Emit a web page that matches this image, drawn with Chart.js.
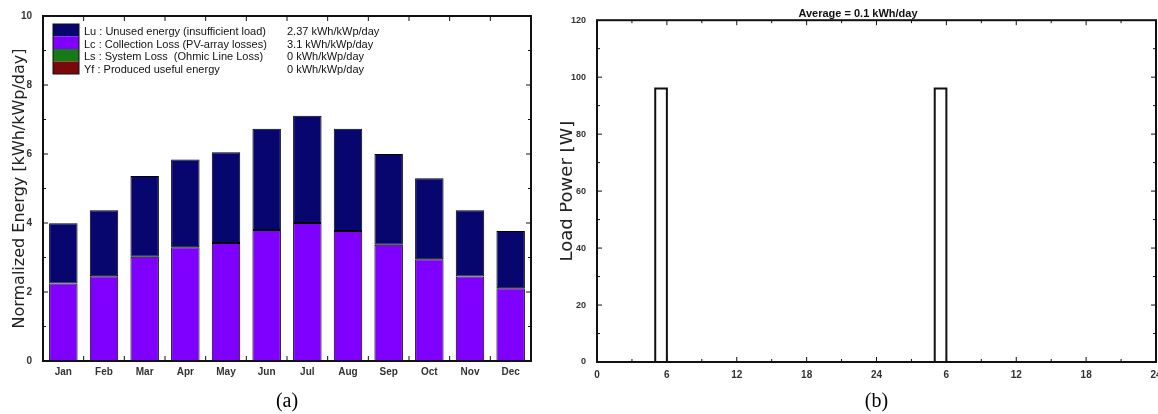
<!DOCTYPE html>
<html>
<head>
    <title>Normalized energy and load power</title>
    <script src="https://cdn.jsdelivr.net/npm/chart.js"></script>
    <style>
        body { margin: 0; background: #fff; overflow: hidden; width: 1158px; height: 414px; position: relative; }
        .box { position: absolute; top: 0; height: 414px; }
    </style>
</head>
<body>
    <div class="box" style="left:0;width:560px"><canvas id="energyChart"></canvas></div>
    <div class="box" style="left:560px;width:610px"><canvas id="loadChart"></canvas></div>
    <script>
        // (a) monthly normalized energy, kWh/kWp/day
        const months = ['Jan', 'Feb', 'Mar', 'Apr', 'May', 'Jun', 'Jul', 'Aug', 'Sep', 'Oct', 'Nov', 'Dec'];
        const yfValues = [0, 0, 0, 0, 0, 0, 0, 0, 0, 0, 0, 0];
        const lsValues = [0, 0, 0, 0, 0, 0, 0, 0, 0, 0, 0, 0];
        const lcValues = [2.25, 2.46, 3.02, 3.30, 3.42, 3.80, 4.00, 3.77, 3.37, 2.95, 2.45, 2.11];
        const luValues = [1.74, 1.91, 2.34, 2.54, 2.63, 2.93, 3.11, 2.96, 2.63, 2.35, 1.92, 1.66];
        const legendLabels = [
            'Lu : Unused energy (insufficient load)',
            'Lc : Collection Loss (PV-array losses)',
            'Ls : System Loss  (Ohmic Line Loss)',
            'Yf : Produced useful energy'
        ];
        const legendValues = ['2.37 kWh/kWp/day', '3.1 kWh/kWp/day', '0 kWh/kWp/day', '0 kWh/kWp/day'];

        // (b) load power over two days, W (value holds for the hour that starts there)
        const hours = [0, 1, 2, 3, 4, 5, 6, 7, 8, 9, 10, 11, 12, 13, 14, 15, 16, 17, 18, 19, 20, 21, 22, 23,
                       24, 25, 26, 27, 28, 29, 30, 31, 32, 33, 34, 35, 36, 37, 38, 39, 40, 41, 42, 43, 44, 45, 46, 47, 48];
        const loadW = [0, 0, 0, 0, 0, 96, 0, 0, 0, 0, 0, 0, 0, 0, 0, 0, 0, 0, 0, 0, 0, 0, 0, 0,
                       0, 0, 0, 0, 0, 96, 0, 0, 0, 0, 0, 0, 0, 0, 0, 0, 0, 0, 0, 0, 0, 0, 0, 0, 0];
        const loadTitle = 'Average = 0.1 kWh/day';

        const tickFont = { family: 'Liberation Sans', size: 10, weight: 'bold' };
        const ink = '#111';

        // frame around the plot with small inward ticks
        function framePlugin(xMarks, yMarks) {
            return {
                id: 'frame',
                afterDraw(chart) {
                    const { ctx, chartArea: a } = chart;
                    const xs = xMarks(chart), ys = yMarks(chart);
                    ctx.save();
                    ctx.strokeStyle = ink;
                    ctx.lineWidth = 1;
                    ctx.beginPath();
                    xs.forEach(m => {
                        ctx.moveTo(m.px, a.bottom); ctx.lineTo(m.px, a.bottom - m.len);
                        ctx.moveTo(m.px, a.top); ctx.lineTo(m.px, a.top + m.len);
                    });
                    ys.forEach(m => {
                        ctx.moveTo(a.left, m.px); ctx.lineTo(a.left + m.len, m.px);
                        ctx.moveTo(a.right, m.px); ctx.lineTo(a.right - m.len, m.px);
                    });
                    ctx.stroke();
                    ctx.lineWidth = 2;
                    ctx.strokeRect(a.left, a.top, a.right - a.left, a.bottom - a.top);
                    ctx.restore();
                }
            };
        }

        const energyLegend = {
            id: 'energyLegend',
            afterDraw(chart) {
                const ctx = chart.ctx;
                const sets = chart.data.datasets.slice().reverse();
                ctx.save();
                ctx.font = '11px "Liberation Sans", Arial, sans-serif';
                ctx.fillStyle = ink;
                ctx.textBaseline = 'middle';
                sets.forEach((ds, i) => {
                    const y = 24 + i * 12.5;
                    ctx.fillStyle = ds.backgroundColor;
                    ctx.fillRect(53, y, 26, 12.5);
                    ctx.fillStyle = ink;
                    ctx.fillText(legendLabels[i], 84, y + 8);
                    ctx.fillText(legendValues[i], 287, y + 8);
                });
                ctx.strokeStyle = ink;
                ctx.lineWidth = 1;
                ctx.strokeRect(53, 24, 26, 50);
                ctx.restore();
            }
        };

        const barSet = (label, data, color, border) => ({
            label: label,
            data: data,
            backgroundColor: color,
            borderColor: '#000',
            borderWidth: border,
            borderSkipped: false,
            barPercentage: 0.7,
            categoryPercentage: 1.0
        });

        new Chart(document.getElementById('energyChart'), {
            type: 'bar',
            data: {
                labels: months,
                datasets: [
                    barSet('Yf', yfValues, '#7a0a0a', 0),
                    barSet('Ls', lsValues, '#167a16', 0),
                    barSet('Lc', lcValues, '#7f00ff', 1),
                    barSet('Lu', luValues, '#06066e', 1)
                ]
            },
            options: {
                responsive: true,
                maintainAspectRatio: false,
                animation: false,
                layout: { padding: { top: 16, right: 29, left: 0, bottom: 0 } },
                plugins: { legend: { display: false }, tooltip: { enabled: false } },
                scales: {
                    x: {
                        stacked: true,
                        grid: { display: false },
                        border: { display: false },
                        ticks: { font: tickFont, color: '#333', padding: -3, maxRotation: 0, autoSkip: false },
                        title: { display: true, text: '(a)', font: { family: 'Liberation Serif', size: 20 }, color: '#000', padding: { top: 0, bottom: 0 } },
                        afterFit(scale) { scale.height = 53; }
                    },
                    y: {
                        stacked: true,
                        min: 0,
                        max: 10,
                        grid: { display: false },
                        border: { display: false },
                        ticks: { stepSize: 2, font: tickFont, color: '#333', padding: 3 },
                        title: { display: true, text: 'Normalized Energy [kWh/kWp/day]', font: { family: 'DejaVu Sans', size: 16 }, color: '#222', padding: { top: 10, bottom: 0 } },
                        afterFit(scale) { scale.width = 43; }
                    }
                }
            },
            plugins: [
                framePlugin(
                    chart => {
                        const x = chart.scales.x, out = [];
                        for (let i = 0; i < months.length - 1; i++) {
                            out.push({ px: (x.getPixelForValue(i) + x.getPixelForValue(i + 1)) / 2, len: 5 });
                        }
                        return out;
                    },
                    chart => {
                        const y = chart.scales.y, out = [];
                        for (let v = 1; v < 10; v++) out.push({ px: y.getPixelForValue(v), len: v % 2 ? 3 : 5 });
                        return out;
                    }
                ),
                energyLegend
            ]
        });

        new Chart(document.getElementById('loadChart'), {
            type: 'line',
            data: {
                datasets: [{
                    label: 'Load',
                    data: hours.map((h, i) => ({ x: h, y: loadW[i] })),
                    stepped: true,
                    borderColor: '#111',
                    borderWidth: 2,
                    pointRadius: 0,
                    fill: false,
                    clip: false
                }]
            },
            options: {
                responsive: true,
                maintainAspectRatio: false,
                animation: false,
                layout: { padding: { top: 0, right: 14, left: 0, bottom: 0 } },
                plugins: {
                    legend: { display: false },
                    tooltip: { enabled: false },
                    title: {
                        display: true,
                        text: loadTitle,
                        font: { family: 'Liberation Sans', size: 11, weight: 'bold' },
                        color: '#111',
                        padding: { top: 7, bottom: 0 }
                    }
                },
                scales: {
                    x: {
                        type: 'linear',
                        min: 0,
                        max: 48,
                        grid: { display: false },
                        border: { display: false },
                        ticks: {
                            stepSize: 6,
                            font: tickFont,
                            color: '#333',
                            padding: -1,
                            maxRotation: 0,
                            callback: v => (v === 0 ? '0' : String(v % 24 === 0 ? 24 : v % 24))
                        },
                        title: { display: true, text: '(b)', font: { family: 'Liberation Serif', size: 20 }, color: '#000', padding: { top: 0, bottom: 0 } },
                        afterFit(scale) { scale.height = 52; }
                    },
                    y: {
                        min: 0,
                        max: 120,
                        grid: { display: false },
                        border: { display: false },
                        ticks: { stepSize: 20, font: { family: 'Liberation Sans', size: 9, weight: 'bold' }, color: '#333', padding: 3 },
                        title: { display: true, text: 'Load Power [W]', font: { family: 'DejaVu Sans', size: 18 }, color: '#222', padding: { top: -3, bottom: 0 } },
                        afterFit(scale) { scale.width = 37; }
                    }
                }
            },
            plugins: [
                framePlugin(
                    chart => {
                        const x = chart.scales.x, out = [];
                        for (let h = 3; h < 48; h += 3) out.push({ px: x.getPixelForValue(h), len: h % 6 ? 3 : 5 });
                        return out;
                    },
                    chart => {
                        const y = chart.scales.y, out = [];
                        for (let v = 10; v < 120; v += 10) out.push({ px: y.getPixelForValue(v), len: v % 20 ? 3 : 5 });
                        return out;
                    }
                )
            ]
        });
    </script>
</body>
</html>
